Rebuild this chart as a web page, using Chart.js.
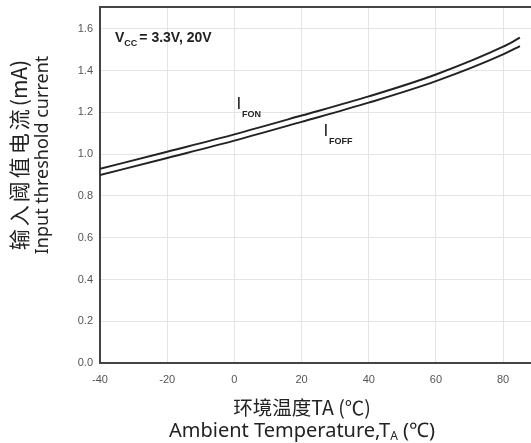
<!DOCTYPE html>
<html>
<head>
<meta charset="utf-8">
<script src="https://cdn.jsdelivr.net/npm/chart.js@4/dist/chart.umd.min.js"></script>
<style>
  html, body { margin: 0; padding: 0; background: #fff; }
</style>
</head>
<body>
<canvas id="myChart" width="531" height="443"></canvas>
<script>
// input threshold current vs ambient temperature
const temps = [-40, -20, 0, 20, 40, 60, 80, 85];
const iFon  = [0.93, 1.012, 1.095, 1.185, 1.277, 1.382, 1.515, 1.558];
const iFoff = [0.90, 0.982, 1.065, 1.155, 1.247, 1.35, 1.478, 1.518];

const xTicks = [-40, -20, 0, 20, 40, 60, 80];
const yTicks = [0, 0.2, 0.4, 0.6, 0.8, 1.0, 1.2, 1.4, 1.6];

const toPoints = (ys) => temps.map((t, i) => ({ x: t, y: ys[i] }));

const axisColor = '#444';
const gridColor = '#e4e4e4';
const tickFont = { family: 'Liberation Sans, Arial', size: 11 };

// frame, axis titles and curve labels
const textPlugin = {
  id: 'texts',
  afterDraw(chart) {
    const { ctx, chartArea: a, scales } = chart;
    const xs = scales.x, ys = scales.y;
    ctx.save();

    // top frame line
    ctx.strokeStyle = axisColor;
    ctx.lineWidth = 2;
    ctx.beginPath();
    ctx.moveTo(a.left, a.top);
    ctx.lineTo(a.right, a.top);
    ctx.stroke();

    ctx.fillStyle = '#222';
    ctx.textBaseline = 'alphabetic';

    // Vcc note
    let x = a.left + 15, y = 42;
    ctx.textAlign = 'left';
    ctx.font = 'bold 14px Liberation Sans, Arial';
    ctx.fillText('V', x, y);
    x += ctx.measureText('V').width;
    ctx.font = 'bold 9px Liberation Sans, Arial';
    ctx.fillText('CC', x, y + 4);
    x += ctx.measureText('CC').width + 2;
    ctx.font = 'bold 14px Liberation Sans, Arial';
    ctx.fillText('= 3.3V, 20V', x, y);

    // curve names
    const sub = (main, s, px, py) => {
      ctx.font = '17px Liberation Sans, Arial';
      ctx.fillText(main, px, py);
      const w = ctx.measureText(main).width;
      ctx.font = 'bold 9px Liberation Sans, Arial';
      ctx.fillText(s, px + w + 1, py + 8);
    };
    sub('I', 'FON', xs.getPixelForValue(0.6), ys.getPixelForValue(1.215));
    sub('I', 'FOFF', xs.getPixelForValue(26.5), ys.getPixelForValue(1.085));

    // x axis title
    const cx = 302;
    ctx.textAlign = 'center';
    ctx.font = '19.5px Noto Sans CJK SC';
    ctx.fillText('环境温度TA (℃)', cx, 415);

    ctx.textAlign = 'left';
    const big = '20px Noto Sans', small = '12px Noto Sans';
    const p1 = 'Ambient Temperature,T', p2 = ' (℃)';
    ctx.font = big;
    const w1 = ctx.measureText(p1).width;
    const w2 = ctx.measureText(p2).width;
    ctx.font = small;
    const wa = ctx.measureText('A').width;
    const sx = cx - (w1 + wa + w2) / 2;
    ctx.font = big;
    ctx.fillText(p1, sx, 437);
    ctx.font = small;
    ctx.fillText('A', sx + w1, 440);
    ctx.font = big;
    ctx.fillText(p2, sx + w1 + wa, 437);

    // y axis title, rotated
    ctx.translate(0, 155);
    ctx.rotate(-Math.PI / 2);
    const cjk = '输入阈值电流', unit = '(mA)';
    ctx.font = '21px Noto Sans CJK SC';
    ctx.letterSpacing = '3px';
    const wc = ctx.measureText(cjk).width;
    ctx.letterSpacing = '0px';
    const wu = ctx.measureText(unit).width;
    const ty = -(wc + wu) / 2;
    ctx.textAlign = 'left';
    ctx.letterSpacing = '3px';
    ctx.fillText(cjk, ty, 27);
    ctx.letterSpacing = '0px';
    ctx.fillText(unit, ty + wc, 27);
    ctx.textAlign = 'center';
    ctx.font = '18px Noto Sans';
    ctx.fillText('Input threshold current', 0, 48);

    ctx.restore();
  }
};

const data = {
  datasets: [
    {
      label: 'IFON',
      data: toPoints(iFon),
      borderColor: '#222',
      borderWidth: 2,
      pointRadius: 0,
      cubicInterpolationMode: 'monotone',
      fill: false
    },
    {
      label: 'IFOFF',
      data: toPoints(iFoff),
      borderColor: '#222',
      borderWidth: 2,
      pointRadius: 0,
      cubicInterpolationMode: 'monotone',
      fill: false
    }
  ]
};

const config = {
  type: 'line',
  data,
  options: {
    responsive: false,
    animation: false,
    devicePixelRatio: 1,
    layout: { padding: { top: 7, right: 0, left: 0, bottom: 0 } },
    plugins: {
      legend: { display: false },
      tooltip: { enabled: false }
    },
    scales: {
      x: {
        type: 'linear',
        min: -40,
        max: 88.3,
        afterBuildTicks: (s) => { s.ticks = xTicks.map(v => ({ value: v })); },
        afterFit: (s) => { s.height = 80; s.paddingRight = 0; s.paddingLeft = 0; },
        grid: { color: gridColor, drawTicks: false },
        border: { color: axisColor, width: 2 },
        ticks: {
          font: tickFont,
          color: '#555',
          padding: 10,
          maxRotation: 0
        }
      },
      y: {
        min: 0,
        max: 1.705,
        afterBuildTicks: (s) => { s.ticks = yTicks.map(v => ({ value: v })); },
        afterFit: (s) => { s.width = 100; s.paddingTop = 0; s.paddingBottom = 0; },
        grid: { color: gridColor, drawTicks: false },
        border: { color: axisColor, width: 2 },
        ticks: {
          font: tickFont,
          color: '#555',
          padding: 7,
          callback: (v) => v.toFixed(1)
        }
      }
    }
  },
  plugins: [textPlugin]
};

const myChart = new Chart(document.getElementById('myChart'), config);
</script>
</body>
</html>
